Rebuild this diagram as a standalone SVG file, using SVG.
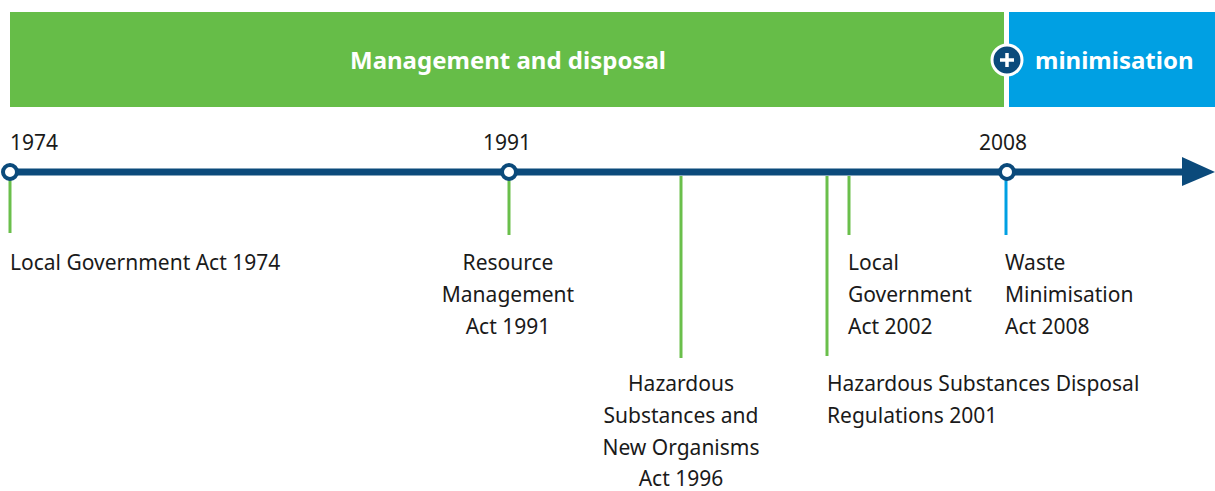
<svg xmlns="http://www.w3.org/2000/svg" width="1215" height="491" viewBox="0 0 1215 491">
<style>
text{font-family:"Noto Sans","Liberation Sans",sans-serif;fill:#1a1a1a;font-size:21px}
.hd{fill:#fff;font-weight:bold;font-size:24px}
.mid{text-anchor:middle}
.tick{stroke:#6abf4b;stroke-width:3}
.tickb{stroke:#00a0e3;stroke-width:3}
.dot{fill:#fff;stroke:#0b4a7b;stroke-width:4}
</style>
<g id="header">
<rect x="10" y="12" width="994" height="95" fill="#66bd48"/>
<rect x="1009" y="12" width="206" height="95" fill="#00a0e3"/>
<text class="hd mid" x="508" y="69">Management and disposal</text>
<circle cx="1007" cy="60" r="15" fill="#0b4a7b" stroke="#fff" stroke-width="3"/>
<path d="M1000 60h14M1007 53v14" stroke="#fff" stroke-width="3.5"/>
<text class="hd" x="1035" y="69">minimisation</text>
</g>
<g id="connectors">
<line x1="10" y1="172" x2="1185" y2="172" stroke="#0b4a7b" stroke-width="7"/>
<polygon points="1182,157 1215,172 1182,186" fill="#0b4a7b"/>
<line class="tick" x1="10" y1="176" x2="10" y2="233"/>
<line class="tick" x1="509" y1="176" x2="509" y2="235"/>
<line class="tick" x1="681" y1="176" x2="681" y2="358"/>
<line class="tick" x1="827" y1="176" x2="827" y2="356"/>
<line class="tick" x1="849" y1="176" x2="849" y2="235"/>
<line class="tickb" x1="1006" y1="176" x2="1006" y2="235"/>
</g>
<g id="y1974"><circle class="dot" cx="10" cy="172" r="7"/><text x="10" y="150">1974</text></g>
<g id="y1991"><circle class="dot" cx="509" cy="172" r="7"/><text class="mid" x="507" y="150">1991</text></g>
<g id="y2008"><circle class="dot" cx="1007" cy="172" r="7"/><text class="mid" x="1003" y="150">2008</text></g>
<g id="lga1974"><text x="10" y="270">Local Government Act 1974</text></g>
<g id="rma1991"><text class="mid" x="508" y="270">Resource</text><text class="mid" x="508" y="302">Management</text><text class="mid" x="508" y="334">Act 1991</text></g>
<g id="hsno1996"><text class="mid" x="681" y="391">Hazardous</text><text class="mid" x="681" y="423">Substances and</text><text class="mid" x="681" y="455">New Organisms</text><text class="mid" x="681" y="486">Act 1996</text></g>
<g id="hsdr2001"><text x="827" y="391">Hazardous Substances Disposal</text><text x="827" y="423">Regulations 2001</text></g>
<g id="lga2002"><text x="848" y="270">Local</text><text x="848" y="302">Government</text><text x="848" y="334">Act 2002</text></g>
<g id="wma2008"><text x="1005" y="270">Waste</text><text x="1005" y="302">Minimisation</text><text x="1005" y="334">Act 2008</text></g>
</svg>
